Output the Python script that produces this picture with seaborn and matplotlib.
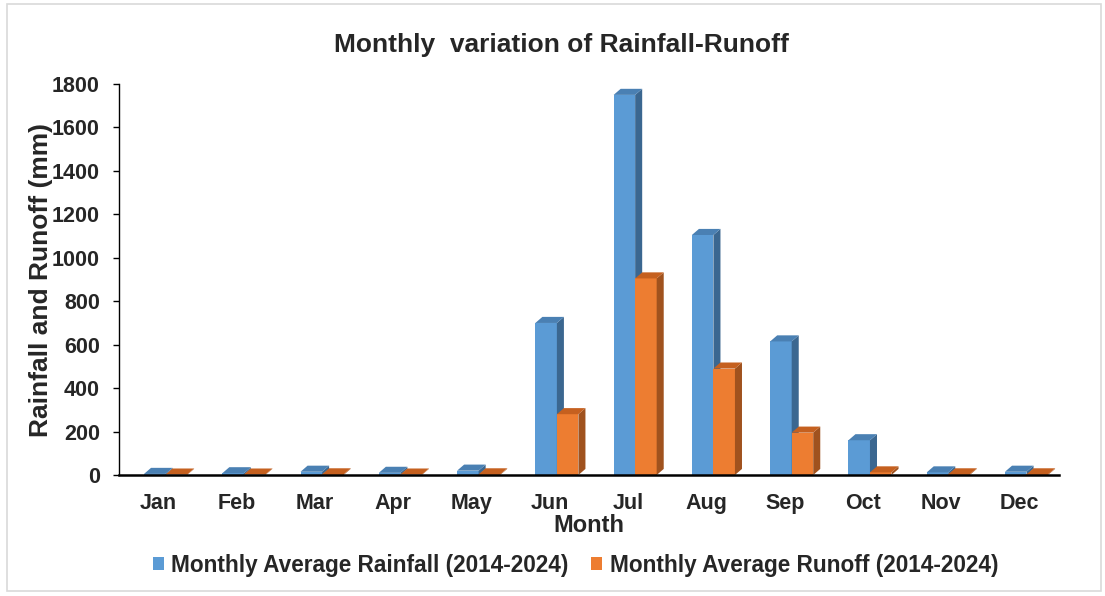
import matplotlib.pyplot as plt
import numpy as np
import pandas as pd
import seaborn as sns
from matplotlib.patches import Polygon, Rectangle

months = ['Jan', 'Feb', 'Mar', 'Apr', 'May', 'Jun', 'Jul', 'Aug', 'Sep', 'Oct', 'Nov', 'Dec']
rainfall = [5, 8, 15, 10, 20, 700, 1750, 1105, 615, 160, 12, 15]
runoff = [2, 2, 3, 2, 3, 280, 905, 490, 195, 12, 3, 3]
series = ['Monthly Average Rainfall (2014-2024)', 'Monthly Average Runoff (2014-2024)']

front = ['#5B9BD5', '#ED7D31']
side = ['#3B6790', '#A0521E']
top = ['#4A80B3', '#C5601F']

df = pd.DataFrame({
    'Month': months * 2,
    'value': rainfall + runoff,
    'series': [series[0]] * 12 + [series[1]] * 12,
})

sns.set_theme(style='white')
plt.rcParams['font.family'] = ['Liberation Sans', 'DejaVu Sans']
plt.rcParams['font.weight'] = 'bold'

fig = plt.figure(figsize=(11.05, 5.96), dpi=100)
ax = fig.add_axes([0.108, 0.203, 0.85, 0.656])

sns.barplot(data=df, x='Month', y='value', hue='series', order=months,
            hue_order=series, palette=front, width=0.55, saturation=1,
            linewidth=0, ax=ax, legend=True)

# fake 3D depth: side and top faces from each bar's geometry
shift, dx, dy = 0.09, 0.09, 28
for k, cont in enumerate(ax.containers):
    for p in cont.patches:
        p.set_x(p.get_x() + shift)
        p.set_zorder(2 + 0.2 * k)
        x0, w, h = p.get_x(), p.get_width(), p.get_height()
        x1 = x0 + w
        z = 2.1 + 0.2 * k
        ax.add_patch(Polygon([(x1, 0), (x1 + dx, dy), (x1 + dx, h + dy), (x1, h)],
                             closed=True, facecolor=side[k], edgecolor='none', zorder=z))
        ax.add_patch(Polygon([(x0, h), (x1, h), (x1 + dx, h + dy), (x0 + dx, h + dy)],
                             closed=True, facecolor=top[k], edgecolor='none', zorder=z))

ax.set_ylim(0, 1800)
ax.set_xlim(-0.5, 11.5)
ax.set_yticks(np.arange(0, 1801, 200))
ax.tick_params(axis='y', which='major', left=True, length=4, width=1, color='black',
               labelsize=15.5, pad=10)
ax.tick_params(axis='x', bottom=False, length=0, labelsize=15.5, pad=13)
for lab in ax.get_xticklabels() + ax.get_yticklabels():
    lab.set_fontweight('bold')

sns.despine(ax=ax)
ax.spines['left'].set_color('black')
ax.spines['left'].set_linewidth(1)
ax.spines['bottom'].set_color('black')
ax.spines['bottom'].set_linewidth(1.8)

ax.set_xlabel('Month', fontsize=17, fontweight='bold', labelpad=0)
ax.set_ylabel('Rainfall and Runoff (mm)', fontsize=19, fontweight='bold')
ax.yaxis.set_label_coords(-0.071, 0.5)
ax.set_title('Monthly  variation of Rainfall-Runoff', fontsize=19, fontweight='bold', pad=23)
ax.title.set_x(0.471)

handles, labels = ax.get_legend_handles_labels()
ax.get_legend().remove()
leg = fig.legend(handles, labels, loc='center', bbox_to_anchor=(0.521, 0.052), ncol=2,
                 frameon=False, fontsize=16.3, handlelength=0.45, handleheight=0.45,
                 handletextpad=0.35, columnspacing=1.0)
for t in leg.get_texts():
    t.set_fontweight('bold')

fig.patches.append(Rectangle((0.006, 0.008), 0.99, 0.985, transform=fig.transFigure,
                             fill=False, edgecolor='#D9D9D9', linewidth=1.2))

fig.savefig('out.png', dpi=100)
